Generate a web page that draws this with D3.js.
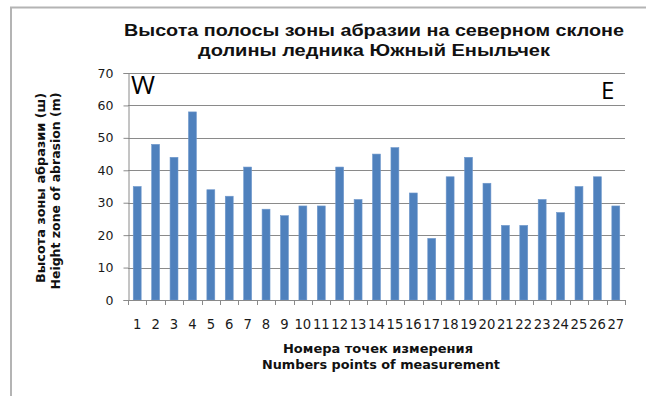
<!DOCTYPE html>
<html>
<head>
<meta charset="utf-8">
<script src="https://cdn.jsdelivr.net/npm/d3@7"></script>
<style>
  html, body { margin: 0; padding: 0; background: #fff; }
  svg { display: block; }
</style>
</head>
<body>
<svg id="chart" width="646" height="396"></svg>
<script>
// Measurement points along the northern slope, west to east
const points = d3.range(1, 28).map(String);
const heights = [35, 48, 44, 58, 34, 32, 41, 28, 26, 29, 29, 41, 31, 45,
                 47, 33, 19, 38, 44, 36, 23, 23, 31, 27, 35, 38, 29];
const yTicks = [0, 10, 20, 30, 40, 50, 60, 70];

const titleLines = ["Высота полосы зоны абразии на северном склоне",
                    "долины ледника Южный Еныльчек"];
const yTitleLines = ["Высота зоны абразии (ш)", "Height  zone of abrasion  (m)"];
const xTitleLines = ["Номера точек измерения", "Numbers points of measurement"];

const svg = d3.select("#chart");
const W = 646, H = 396;
const plot = { left: 128, right: 625, top: 73, bottom: 300 };
const gridColor = "#8a8a8a";
const labelFont = "'DejaVu Sans', Verdana, sans-serif";

// chart frame
svg.append("path")
  .attr("d", `M11,${H} V7.5 H${W}`)
  .attr("fill", "none").attr("stroke", "#b4b4b4").attr("stroke-width", 2);

const x = d3.scaleBand().domain(points).range([plot.left, plot.right])
  .paddingInner(0.57).paddingOuter(0.285);
const y = d3.scaleLinear().domain([0, 70]).range([plot.bottom, plot.top]);

// horizontal gridlines
svg.append("g").selectAll("line").data(yTicks.filter(d => d > 0)).join("line")
  .attr("x1", plot.left).attr("x2", plot.right)
  .attr("y1", d => Math.round(y(d)) + 0.5).attr("y2", d => Math.round(y(d)) + 0.5)
  .attr("stroke", gridColor).attr("stroke-width", 1);

// bars
svg.append("g").selectAll("rect").data(heights).join("rect")
  .attr("x", (d, i) => x(points[i]))
  .attr("width", x.bandwidth())
  .attr("y", d => y(d))
  .attr("height", d => y(0) - y(d))
  .attr("fill", "#4f81bd")
  .attr("stroke", "#6f98cc").attr("stroke-width", 0.6);

// y axis
const yAxis = d3.axisLeft(y).tickValues(yTicks).tickSize(5).tickPadding(10);
const gy = svg.append("g").attr("transform", `translate(${plot.left + 0.5},0)`).call(yAxis);
gy.select(".domain").attr("stroke", gridColor);
gy.selectAll(".tick line").attr("stroke", gridColor);
gy.selectAll(".tick text")
  .attr("font-family", labelFont).attr("font-size", 12.5).attr("fill", "#1a1a1a");

// x axis: tick marks sit between categories
const xAxis = d3.axisBottom(x).tickSize(0).tickPadding(19);
const gx = svg.append("g").attr("transform", `translate(0,${plot.bottom + 0.5})`).call(xAxis);
gx.select(".domain").attr("stroke", gridColor)
  .attr("d", `M${plot.left},0H${plot.right}`);
gx.selectAll(".tick text")
  .attr("font-family", labelFont).attr("font-size", 13.2).attr("fill", "#1a1a1a");
const bounds = d3.range(points.length + 1)
  .map(i => plot.left + i * (plot.right - plot.left) / points.length);
svg.append("g").selectAll("line").data(bounds).join("line")
  .attr("x1", d => Math.round(d) + 0.5).attr("x2", d => Math.round(d) + 0.5)
  .attr("y1", plot.bottom).attr("y2", plot.bottom + 5)
  .attr("stroke", gridColor);

// title
const title = svg.append("text")
  .attr("font-family", "'Liberation Sans', Arial, sans-serif")
  .attr("font-weight", "bold").attr("font-size", 16).attr("fill", "#111")
  .attr("text-anchor", "middle");
const titleWidths = [500, 352];
titleLines.forEach((t, i) => title.append("tspan")
  .attr("x", 374).attr("y", 36 + i * 20)
  .attr("textLength", titleWidths[i]).attr("lengthAdjust", "spacingAndGlyphs")
  .text(t));

// W / E markers
svg.append("text").attr("x", 131).attr("y", 94)
  .attr("font-family", "'Open Sans', sans-serif").attr("font-size", 26).attr("fill", "#000").text("W");
svg.append("text").attr("x", 601).attr("y", 99)
  .attr("font-family", "'Open Sans', sans-serif").attr("font-size", 24).attr("fill", "#000").text("E");

// y axis title, two rotated lines
const yTitlePos = [{ x: 45, c: 188, w: 190 }, { x: 60, c: 191, w: 197 }];
yTitleLines.forEach((t, i) => svg.append("text")
  .attr("transform", `translate(${yTitlePos[i].x},${yTitlePos[i].c}) rotate(-90)`)
  .attr("font-family", labelFont)
  .attr("font-weight", "bold").attr("font-size", 13).attr("fill", "#111")
  .attr("text-anchor", "middle")
  .attr("textLength", yTitlePos[i].w).attr("lengthAdjust", "spacingAndGlyphs")
  .text(t));

// x axis title
const xTitlePos = [{ c: 378, y: 353, w: 190 }, { c: 381, y: 369, w: 238 }];
xTitleLines.forEach((t, i) => svg.append("text")
  .attr("x", xTitlePos[i].c).attr("y", xTitlePos[i].y)
  .attr("font-family", labelFont)
  .attr("font-weight", "bold").attr("font-size", 12.5).attr("fill", "#111")
  .attr("text-anchor", "middle")
  .attr("textLength", xTitlePos[i].w).attr("lengthAdjust", "spacingAndGlyphs")
  .text(t));
</script>
</body>
</html>
